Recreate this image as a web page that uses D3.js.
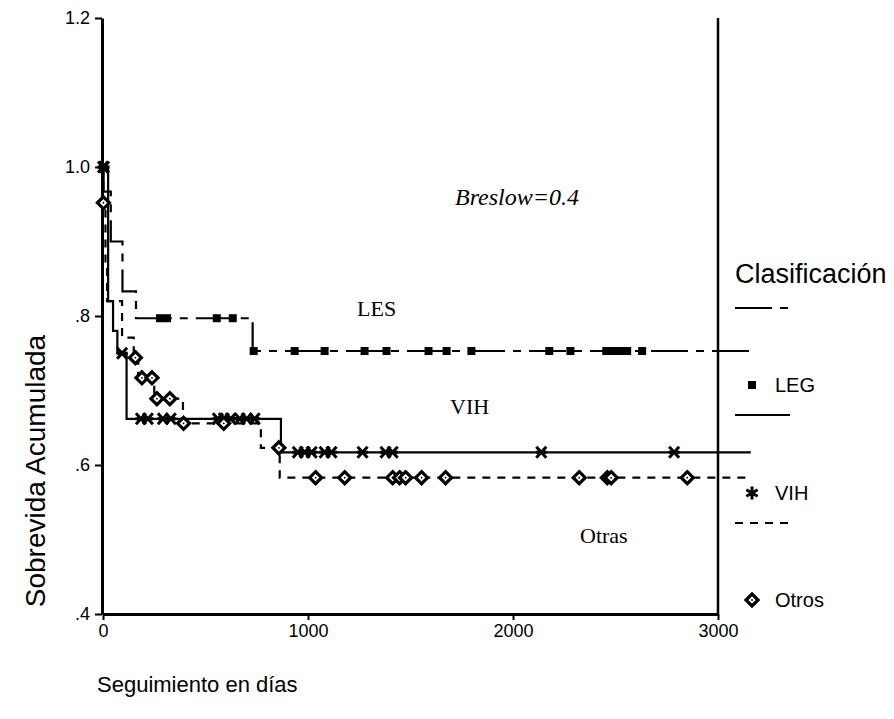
<!DOCTYPE html>
<html lang="es">

<head>
    <meta charset="UTF-8">
    <title>Sobrevida Acumulada</title>
    <style>
        * {
            margin: 0;
            padding: 0;
        }

        body {
            background: #fff;
        }
    </style>
</head>

<body>
    <div id="chart"></div>
    <script src="https://cdn.jsdelivr.net/npm/d3@7"></script>
    <script>
        // curvas de Kaplan-Meier (tiempo en días, sobrevida)
        const lesTimes = [0, 3, 38, 95, 161, 730]
        const lesSurv = [1.0, 0.967, 0.9, 0.833, 0.797, 0.753]
        const lesCensor = [278, 312, 555, 633, 735, 935, 1081, 1276, 1383, 1588, 1676, 1797, 2177, 2280, 2455, 2489, 2523, 2557, 2630]

        const vihTimes = [0, 25, 49, 70, 115, 868]
        const vihSurv = [1.0, 0.82, 0.78, 0.75, 0.662, 0.617]
        const vihCensor = [0, 5, 93, 185, 219, 292, 331, 560, 589, 623, 667, 701, 740, 950, 984, 1018, 1081, 1115, 1266, 1378, 1413, 2138, 2786]

        const otrosTimes = [0, 1, 12, 20, 93, 150, 172, 250, 390, 770, 862]
        const otrosSurv = [1.0, 0.952, 0.87, 0.82, 0.771, 0.744, 0.717, 0.689, 0.656, 0.623, 0.583]
        const otrosCensor = [2, 158, 190, 239, 263, 326, 393, 589, 858, 1037, 1179, 1413, 1447, 1476, 1554, 1671, 2323, 2460, 2479, 2850]

        const lastDay = 3160

        const yTicks = [0.4, 0.6, 0.8, 1.0, 1.2]
        const yTickLabels = ['.4', '.6', '.8', '1.0', '1.2']
        const xTicks = [0, 1000, 2000, 3000]

        const width = 894
        const height = 719

        const svg = d3.select('#chart')
            .append('svg')
            .attr('width', width)
            .attr('height', height)
            .style('background', '#fff')

        const x = d3.scaleLinear().domain([0, 3000]).range([103, 718])
        const y = d3.scaleLinear().domain([0.4, 1.2]).range([614, 18])

        const sans = 'Arial, "Liberation Sans", sans-serif'
        const serif = '"Times New Roman", "Liberation Serif", serif'

        // ejes
        const yAxis = svg.append('g')
            .attr('transform', 'translate(102, 0)')
            .call(d3.axisLeft(y).tickValues(yTicks).tickSize(7).tickSizeOuter(0)
                .tickFormat((d, i) => yTickLabels[i]))
        const xAxis = svg.append('g')
            .attr('transform', `translate(0, ${y(0.4)})`)
            .call(d3.axisBottom(x).tickValues(xTicks).tickSize(6).tickSizeOuter(0)
                .tickFormat(d3.format('d')))

        svg.selectAll('.domain').attr('stroke', '#000').attr('stroke-width', 3)
        svg.selectAll('.tick line').attr('stroke', '#000').attr('stroke-width', 2)
        svg.selectAll('.tick text')
            .attr('fill', '#000')
            .style('font-family', sans)
            .style('font-size', '18px')
        yAxis.selectAll('.tick text').attr('x', -12)
        xAxis.selectAll('.tick text').attr('y', 10)

        // borde derecho
        svg.append('line')
            .attr('x1', x(3000)).attr('x2', x(3000))
            .attr('y1', y(1.2)).attr('y2', y(0.4))
            .attr('stroke', '#000')
            .attr('stroke-width', 2.5)

        const stepLine = d3.line()
            .x(d => x(d[0]))
            .y(d => y(d[1]))
            .curve(d3.curveStepAfter)

        const curves = [
            { times: lesTimes, surv: lesSurv, censor: lesCensor, dash: '37,8,8,8', mark: 'square' },
            { times: vihTimes, surv: vihSurv, censor: vihCensor, dash: null, mark: 'cross' },
            { times: otrosTimes, surv: otrosSurv, censor: otrosCensor, dash: '8,7', mark: 'diamond' }
        ]

        function survAt(c, t) {
            let v = c.surv[0]
            c.times.forEach((d, i) => { if (d <= t) v = c.surv[i] })
            return v
        }

        const plot = svg.append('g')

        curves.forEach(c => {
            const pts = c.times.map((t, i) => [t, c.surv[i]])
            pts.push([lastDay, c.surv[c.surv.length - 1]])
            plot.append('path')
                .attr('d', stepLine(pts))
                .attr('fill', 'none')
                .attr('stroke', '#000')
                .attr('stroke-width', 2.2)
                .attr('stroke-dasharray', c.dash)
        })

        // marcas de censura
        function drawMark(g, type, cx, cy) {
            if (type === 'square') {
                g.append('rect')
                    .attr('x', cx - 4).attr('y', cy - 4)
                    .attr('width', 8).attr('height', 8)
                    .attr('fill', '#000')
            } else if (type === 'cross') {
                g.append('path')
                    .attr('d', `M${cx - 5},${cy - 5.5}L${cx + 5},${cy + 5.5}M${cx - 5},${cy + 5.5}L${cx + 5},${cy - 5.5}M${cx - 5.5},${cy}L${cx + 5.5},${cy}`)
                    .attr('stroke', '#000')
                    .attr('stroke-width', 3)
                    .attr('fill', 'none')
            } else if (type === 'asterisk') {
                g.append('path')
                    .attr('d', d3.symbol(d3.symbolAsterisk, 120)())
                    .attr('transform', `translate(${cx}, ${cy})`)
                    .attr('stroke', '#000')
                    .attr('stroke-width', 3)
                    .attr('fill', 'none')
            } else {
                g.append('path')
                    .attr('d', `M${cx},${cy - 6}L${cx + 6},${cy}L${cx},${cy + 6}L${cx - 6},${cy}Z`)
                    .attr('stroke', '#000')
                    .attr('stroke-width', 3.2)
                    .attr('stroke-linejoin', 'miter')
                    .attr('fill', '#fff')
                g.append('circle')
                    .attr('cx', cx).attr('cy', cy).attr('r', 0.9)
                    .attr('fill', '#000')
            }
        }

        curves.forEach(c => {
            c.censor.forEach(t => drawMark(plot, c.mark, x(t), y(survAt(c, t))))
        })

        // anotaciones
        svg.append('text')
            .attr('x', 455).attr('y', 205)
            .text('Breslow=0.4')
            .style('font-family', serif)
            .style('font-style', 'italic')
            .style('font-size', '24px')
        const notes = [['LES', 357, 316], ['VIH', 450, 414], ['Otras', 580, 543]]
        notes.forEach(n => {
            svg.append('text')
                .attr('x', n[1]).attr('y', n[2])
                .text(n[0])
                .style('font-family', serif)
                .style('font-size', '22px')
        })

        // títulos de ejes
        svg.append('text')
            .attr('transform', 'translate(45, 471) rotate(-90)')
            .attr('text-anchor', 'middle')
            .text('Sobrevida Acumulada')
            .style('font-family', sans)
            .style('font-size', '28px')
        svg.append('text')
            .attr('x', 97).attr('y', 692)
            .text('Seguimiento en días')
            .style('font-family', sans)
            .style('font-size', '22px')

        // leyenda
        const legend = svg.append('g')
        legend.append('text')
            .attr('x', 735).attr('y', 283)
            .text('Clasificación')
            .style('font-family', sans)
            .style('font-size', '27px')

        const legendItems = [
            { label: 'LEG', lineY: 308, dash: '37,8,8,8', markY: 385, mark: 'square' },
            { label: 'VIH', lineY: 415, dash: null, markY: 493, mark: 'asterisk' },
            { label: 'Otros', lineY: 523, dash: '8,7', markY: 600, mark: 'diamond' }
        ]
        legendItems.forEach(d => {
            legend.append('line')
                .attr('x1', 735).attr('x2', 790)
                .attr('y1', d.lineY).attr('y2', d.lineY)
                .attr('stroke', '#000')
                .attr('stroke-width', 2.2)
                .attr('stroke-dasharray', d.dash)
            drawMark(legend, d.mark, 752, d.markY)
            legend.append('text')
                .attr('x', 775).attr('y', d.markY + 7)
                .text(d.label)
                .style('font-family', sans)
                .style('font-size', '20px')
        })
    </script>
</body>

</html>
